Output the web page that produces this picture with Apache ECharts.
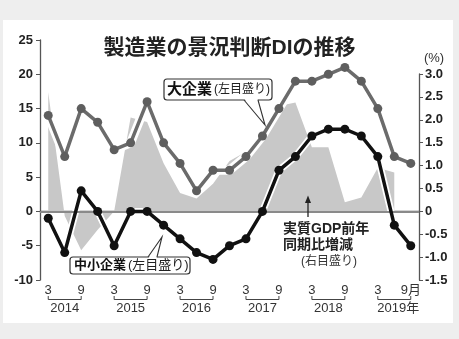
<!DOCTYPE html>
<html>
<head>
<meta charset="utf-8">
<script src="https://cdn.jsdelivr.net/npm/echarts@6/dist/echarts.min.js"></script>
<style>
  html, body { margin: 0; padding: 0; background: #eeeeee; }
  #card { position: absolute; left: 3px; top: 20px; width: 450px; height: 303px; background: #ffffff; }
  #chart { position: absolute; left: 0; top: 0; width: 459px; height: 339px; }
</style>
</head>
<body>
<div id="card"></div>
<div id="chart"></div>
<script>
// ---- data ----
const quarters = ['2014/3','2014/6','2014/9','2014/12','2015/3','2015/6','2015/9','2015/12',
                  '2016/3','2016/6','2016/9','2016/12','2017/3','2017/6','2017/9','2017/12',
                  '2018/3','2018/6','2018/9','2018/12','2019/3','2019/6','2019/9'];
const largeDI = [14, 8, 15, 13, 9, 10, 16, 10, 7, 3, 6, 6, 8, 11, 15, 19, 19, 20, 21, 19, 15, 8, 7];
const smallDI = [-1, -6, 3, 0, -5, 0, 0, -2, -4, -6, -7, -5, -4, 0, 6, 8, 11, 12, 12, 11, 8, -2, -5];
const gdpYoY  = [2.6, -0.1, -0.85, -0.4, 0.0, 2.05, 1.95, 1.05, 0.4, 0.28, 0.6, 1.1, 1.3, 1.75, 2.3, 2.38, 1.4, 1.4, 0.2, 0.3, 0.95, 0.85, null];
const yearLabels = ['2014', '2015', '2016', '2017', '2018', '2019年'];
const yearStartIdx = [0, 4, 8, 12, 16, 20];
const yearEndIdx   = [2, 6, 10, 14, 18, 22];
const leftMin = -10, leftMax = 25, leftStep = 5;
const rightMin = -1.5, rightMax = 3.0, rightStep = 0.5;

const FONT = '"Liberation Sans", "Noto Sans CJK JP", sans-serif';
const chart = echarts.init(document.getElementById('chart'), null, { renderer: 'canvas' });

const monthLabel = (val, idx) => {
  const m = val.split('/')[1];
  return idx === quarters.length - 1 ? m + '月' : m;
};

const txt = (x, y, text, font, fill, align) => ({
  type: 'text', z: 12, x: x, y: y,
  style: { text: text, font: font, fill: fill || '#222', textAlign: align || 'left', textVerticalAlign: 'middle' }
});

const option = {
  animation: false,
  backgroundColor: 'transparent',
  textStyle: { fontFamily: FONT },
  title: {
    text: '製造業の景況判断DIの推移',
    left: 'center', top: 33,
    textStyle: { fontFamily: FONT, fontSize: 21, fontWeight: 'bold', color: '#222' }
  },
  grid: [
    { left: 40, right: 40, top: 40, bottom: 59 },
    { left: 40, right: 40, top: 74, bottom: 59 }
  ],
  xAxis: [
    {
      type: 'category', gridIndex: 0, data: quarters, boundaryGap: true,
      axisLine: { lineStyle: { color: '#555', width: 1.3 } },
      axisTick: { inside: true, length: 5, alignWithLabel: true, interval: (i) => i % 2 === 0, lineStyle: { color: '#555' } },
      axisLabel: { interval: (i) => i % 2 === 0, formatter: monthLabel, margin: 4,
                   fontFamily: FONT, fontSize: 13, color: '#333' },
      splitLine: { show: false }
    },
    {
      type: 'category', gridIndex: 1, data: quarters, boundaryGap: true, show: false
    }
  ],
  yAxis: [
    {
      type: 'value', gridIndex: 0, position: 'left', min: leftMin, max: leftMax, interval: leftStep,
      axisLine: { show: true, lineStyle: { color: '#555', width: 1.3 } },
      axisTick: { show: true, length: 4, lineStyle: { color: '#555' } },
      axisLabel: { margin: 7, fontFamily: FONT, fontSize: 13, fontWeight: 'bold', color: '#222' },
      splitLine: { show: false }
    },
    {
      type: 'value', gridIndex: 1, position: 'right', min: rightMin, max: rightMax, interval: rightStep,
      axisLine: { show: true, lineStyle: { color: '#555', width: 1.3 } },
      axisTick: { show: true, length: 4, lineStyle: { color: '#555' } },
      axisLabel: { margin: 6, fontFamily: FONT, fontSize: 13, fontWeight: 'bold', color: '#222',
                   formatter: (v) => (v === 0 ? '0' : v.toFixed(1)) },
      splitLine: { show: false }
    }
  ],
  series: [
    {
      name: '実質GDP前年同期比増減', type: 'line', xAxisIndex: 1, yAxisIndex: 1,
      data: gdpYoY, symbol: 'none', z: 1, silent: true,
      lineStyle: { width: 0, color: '#c8c8c8' },
      areaStyle: { color: '#c8c8c8', opacity: 1 },
      markLine: {
        silent: true, symbol: 'none', label: { show: false },
        lineStyle: { color: '#8a8a8a', width: 2, type: 'solid' },
        data: [{ yAxis: 0 }]
      }
    },
    {
      name: 'halo-large', type: 'line', xAxisIndex: 0, yAxisIndex: 0, data: largeDI,
      symbol: 'none', z: 2, silent: true, lineStyle: { color: '#ffffff', width: 9 }
    },
    {
      name: '大企業', type: 'line', xAxisIndex: 0, yAxisIndex: 0, data: largeDI,
      symbol: 'circle', symbolSize: 9, z: 3,
      lineStyle: { color: '#6b6b6b', width: 3.5 },
      itemStyle: { color: '#5e5e5e' }
    },
    {
      name: 'halo-small', type: 'line', xAxisIndex: 0, yAxisIndex: 0, data: smallDI,
      symbol: 'none', z: 4, silent: true, lineStyle: { color: '#ffffff', width: 7 }
    },
    {
      name: '中小企業', type: 'line', xAxisIndex: 0, yAxisIndex: 0, data: smallDI,
      symbol: 'circle', symbolSize: 9, z: 5,
      lineStyle: { color: '#111111', width: 3.5 },
      itemStyle: { color: '#111111' }
    },
    {
      name: 'years', type: 'custom', xAxisIndex: 0, yAxisIndex: 0, clip: false, silent: true, z: 6,
      data: yearStartIdx.map((s, i) => [s, yearEndIdx[i]]),
      encode: { x: [0, 1] },
      renderItem: (params, api) => {
        const s = api.coord([api.value(0), leftMin]);
        const e = api.coord([api.value(1), leftMin]);
        const y0 = s[1] + 16, y1 = s[1] + 19.5;
        const label = yearLabels[params.dataIndex];
        const cx = (s[0] + e[0]) / 2 + (label.length > 4 ? 4 : 0);
        return {
          type: 'group',
          children: [
            { type: 'polyline', shape: { points: [[s[0], y0], [s[0], y1], [e[0], y1], [e[0], y0]] },
              style: { stroke: '#444', lineWidth: 1, fill: null } },
            { type: 'text', x: cx, y: s[1] + 28,
              style: { text: label, textAlign: 'center', textVerticalAlign: 'middle',
                       font: '13px ' + FONT, fill: '#333' } }
          ]
        };
      }
    }
  ],
  graphic: [
    txt(434, 58, '(%)', '13px ' + FONT, '#333', 'center'),
    // 大企業 label box
    { type: 'rect', z: 10, shape: { x: 164, y: 79, width: 108, height: 21, r: 3 },
      style: { fill: '#fff', stroke: '#333', lineWidth: 1.2 } },
    { type: 'polygon', z: 11, shape: { points: [[244.5, 99], [265, 125], [257.5, 99]] },
      style: { fill: '#fff', stroke: null } },
    { type: 'polyline', z: 12, shape: { points: [[244, 100], [265, 125], [258, 100]] },
      style: { stroke: '#333', lineWidth: 1.1, fill: null } },
    txt(167, 90, '大企業', 'bold 15px ' + FONT, '#111'),
    txt(214, 90, '(左目盛り)', '12px ' + FONT, '#222'),
    // 中小企業 label box
    { type: 'rect', z: 10, shape: { x: 70, y: 257, width: 120, height: 17, r: 3 },
      style: { fill: '#fff', stroke: '#333', lineWidth: 1.2 } },
    { type: 'polygon', z: 11, shape: { points: [[148.5, 258], [162, 237], [156.5, 258]] },
      style: { fill: '#fff', stroke: null } },
    { type: 'polyline', z: 12, shape: { points: [[148, 257], [162, 237], [157, 257]] },
      style: { stroke: '#333', lineWidth: 1.1, fill: null } },
    txt(74, 265.5, '中小企業', 'bold 13px ' + FONT, '#111'),
    txt(128, 265.5, '(左目盛り)', '13px ' + FONT, '#222'),
    // GDP label + arrow
    { type: 'line', z: 12, shape: { x1: 308, y1: 217, x2: 308, y2: 200 },
      style: { stroke: '#222', lineWidth: 1.3 } },
    { type: 'polygon', z: 12, shape: { points: [[305, 203], [308, 195.5], [311, 203]] },
      style: { fill: '#222' } },
    txt(283, 229, '実質GDP前年', 'bold 14px ' + FONT, '#222'),
    txt(283, 245, '同期比増減', 'bold 14px ' + FONT, '#222'),
    txt(301, 262, '(右目盛り)', '12px ' + FONT, '#333')
  ]
};
chart.setOption(option);
</script>
</body>
</html>
